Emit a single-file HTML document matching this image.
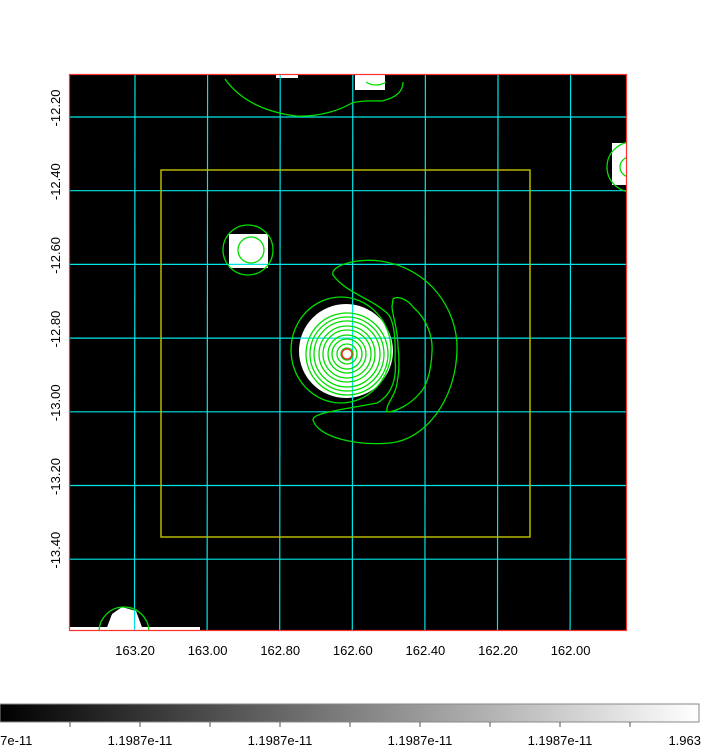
<!DOCTYPE html>
<html><head><meta charset="utf-8"><style>
body{margin:0;background:#fff;width:701px;height:748px;overflow:hidden;font-family:"Liberation Sans",sans-serif}
svg text{font-family:"Liberation Sans",sans-serif;font-size:13px;fill:#000}
</style></head><body>
<svg id="c" width="701" height="748">
<defs><linearGradient id="g" x1="0" x2="1"><stop offset="0" stop-color="#000"/><stop offset="1" stop-color="#fff"/></linearGradient>
<clipPath id="clip"><rect x="70" y="75" width="556" height="555"/></clipPath></defs>
<rect x="70" y="75" width="556" height="555" fill="#000"/>
<g clip-path="url(#clip)" id="img">
<rect x="229" y="234" width="39" height="34" fill="#fff"/>
<rect x="355" y="74" width="30" height="16" fill="#fff"/>
<rect x="276" y="74" width="22" height="4" fill="#fff"/>
<rect x="612" y="143" width="16" height="42" fill="#fff"/>
<path d="M106 630 L112 614 L122 607 L136 611 L143 630Z" fill="#fff"/>
<path d="M70 627 H200 V630 H70Z" fill="#fff"/>
<circle cx="346" cy="351" r="47" fill="#fff"/>
<g id="grid" stroke="#00e5e5" stroke-width="1.2" fill="none"></g>
<rect x="161" y="170" width="369" height="367" fill="none" stroke="#b8b800" stroke-width="1.5"/>
<g stroke="#00dd00" stroke-width="1.3" fill="none">
<g id="rings"></g>
<ellipse cx="341" cy="350" rx="50" ry="53"/>
<path d="M333 275 C330 266 355 258 380 261 C430 268 458 310 457 350 C456 400 425 440 390 443 C355 446 318 437 313 420 C312 413 340 410 377 403 C392 395 397 378 395 360 C396 335 393 318 387 313 C370 298 345 292 333 275Z"/>
<path d="M393 299 C398 295 408 300 413 307 C428 320 433 338 432 352 C431 375 425 388 420 393 C410 405 395 412 387 412 C385 405 396 395 397 383 C400 368 399 355 398 347 C398 330 393 318 392 307Z"/>
<path d="M225 79 C240 100 265 112 296 116 C320 117 340 110 352 103 C362 100 375 101 382 101 C395 98 403 92 403 82"/>
<path d="M366 82 C372 86 380 86 386 82"/>
<circle cx="248" cy="250" r="25"/>
<circle cx="251" cy="250" r="13"/>
<circle cx="632" cy="167" r="25"/>
<circle cx="630" cy="167" r="10"/>
<circle cx="124" cy="632" r="25"/>
</g>
<circle cx="347" cy="354" r="5" fill="none" stroke="#ff2020" stroke-width="1.3"/>
</g>
<rect x="69.5" y="74.5" width="557" height="556" fill="none" stroke="#ff3030" stroke-width="1.2"/>
<g id="xlab"></g><g id="ylab"></g>
<rect x="0" y="704" width="699" height="18" fill="url(#g)" stroke="#888" stroke-width="1"/>
<g id="cb"></g>
</svg>
<script>
const xTicks=[163.20,163.00,162.80,162.60,162.40,162.20,162.00];
const yTicks=[-12.20,-12.40,-12.60,-12.80,-13.00,-13.20,-13.40];
const cbLabels=["1.1987e-11","1.1987e-11","1.1987e-11","1.1987e-11","1.1987e-11"];
const ringRadii=[6,10,15,19,24,28,33,37,41];
const NS="http://www.w3.org/2000/svg";
function X(v){return 135+(163.20-v)/0.2*72.6;}
function Y(v){return 117+(-12.20-v)/0.2*73.7;}
function mk(t,a,p){const e=document.createElementNS(NS,t);for(const k in a)e.setAttribute(k,a[k]);p.appendChild(e);return e;}
const grid=document.getElementById('grid');
xTicks.forEach(v=>{const l=mk('line',{x1:X(v),y1:75,x2:X(v)-0.5,y2:630},grid);


const t=mk('text',{x:X(v),y:655,'text-anchor':'middle'},document.getElementById('xlab'));t.textContent=v.toFixed(2);

});
yTicks.forEach(v=>{const l=mk('line',{x1:70,y1:Y(v),x2:626,y2:Y(v)},grid);


const t=mk('text',{x:0,y:0,'text-anchor':'middle',transform:`translate(60,${Y(v)-9}) rotate(-90)`},document.getElementById('ylab'));t.textContent=v.toFixed(2);

});
const rings=document.getElementById('rings');
ringRadii.forEach(r=>{const c=mk('circle',{cx:347,cy:354,r:r},rings);

});
const cb=document.getElementById('cb');
for(let i=1;i<10;i++){const l=mk('line',{x1:i*70,y1:722,x2:i*70,y2:727,stroke:'#555'},cb);

}
cbLabels.forEach((s,i)=>{const t=mk('text',{x:i*140,y:745,'text-anchor':'middle','font-size':'11'},cb);t.textContent=s;

});
const te=mk('text',{x:701,y:745,'text-anchor':'end','font-size':'11'},cb);te.textContent="1.963";


</script>
</body></html>
